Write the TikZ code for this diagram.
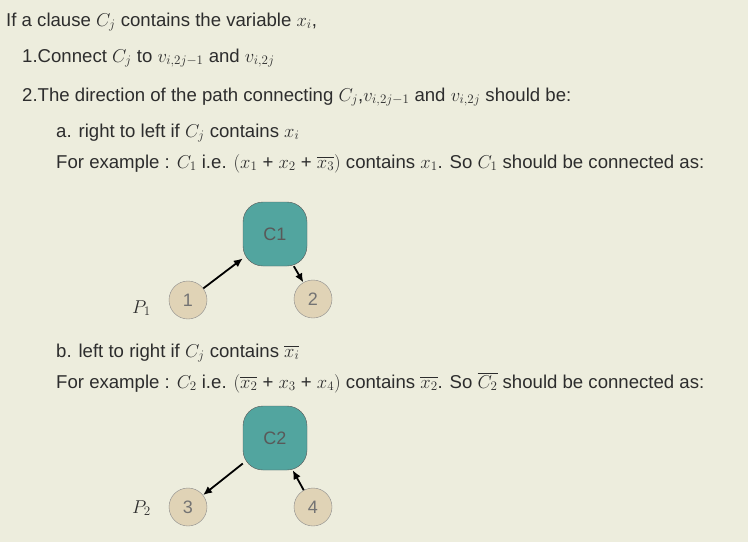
\documentclass[tikz,border=0pt]{standalone}
\usepackage{fix-cm}
\usepackage{amsmath}
\usepackage{fontspec}
\setmainfont{Liberation Sans}
\usetikzlibrary{arrows.meta}
\definecolor{paper}{RGB}{237,237,221}
\definecolor{ink}{RGB}{45,45,45}
\definecolor{clausefill}{RGB}{82,165,159}
\definecolor{varfill}{RGB}{224,211,182}

\begin{document}
\begin{tikzpicture}
	[x=1pt,y=-1pt,every node/.style={inner sep=0pt,text=ink,font=\fontsize{18.6}{22}\selectfont},
	 line/.style={anchor=base west},
	 clause/.style={draw=black!65,fill=clausefill,rounded corners=20pt,minimum width=64pt,minimum height=64pt,text=black!65,font=\fontsize{18}{20}\selectfont},
	 var/.style={circle,draw=black!45,fill=varfill,minimum size=38pt,text=black!55,font=\fontsize{18}{20}\selectfont},
	 edge/.style={->,> = {Latex[length=9pt,width=8pt]},line width=1.8pt}]
	\fill[paper] (0,0) rectangle (748,542);
	% the text
	\node[line] (l1) at (6,26)  {If a clause $C_j$ contains the variable $x_i$,};
	\node[line] (l2) at (22,62) {1.Connect $C_j$ to $v_{i,2j-1}$ and $v_{i,2j}$};
	\node[line] (l3) at (22,101) {2.The direction of the path connecting $C_j$,$v_{i,2j-1}$ and $v_{i,2j}$ should be:};
	\node[line] (l4) at (56,137) {a. right to left if $C_j$ contains $x_i$};
	\node[line] (l5) at (56,168) {For example : $C_1$ i.e. $(x_1$ + $x_2$ + $\overline{x_3})$ contains $x_1$. So $C_1$ should be connected as:};
	\node[line] (l6) at (56,357) {b. left to right if $C_j$ contains $\overline{x_i}$};
	\node[line] (l7) at (56,388) {For example : $C_2$ i.e. $(\overline{x_2}$ + $x_3$ + $x_4)$ contains $\overline{x_2}$. So $\overline{C_2}$ should be connected as:};
	% first example
	\node[clause] (c1) at (275,234) {C1};
	\node[var] (v1) at (188,300) {1};
	\node[var] (v2) at (313,299) {2};
	\node[line] (p1) at (132,313) {$P_1$};
	\draw[edge] (v1) -- (c1);
	\draw[edge] (c1) -- (v2);
	% second example
	\node[clause] (c2) at (275,438) {C2};
	\node[var] (v3) at (188,507) {3};
	\node[var] (v4) at (313,507) {4};
	\node[line] (p2) at (132,513) {$P_2$};
	\draw[edge] (c2) -- (v3);
	\draw[edge] (v4) -- (c2);
\end{tikzpicture}
\end{document}
